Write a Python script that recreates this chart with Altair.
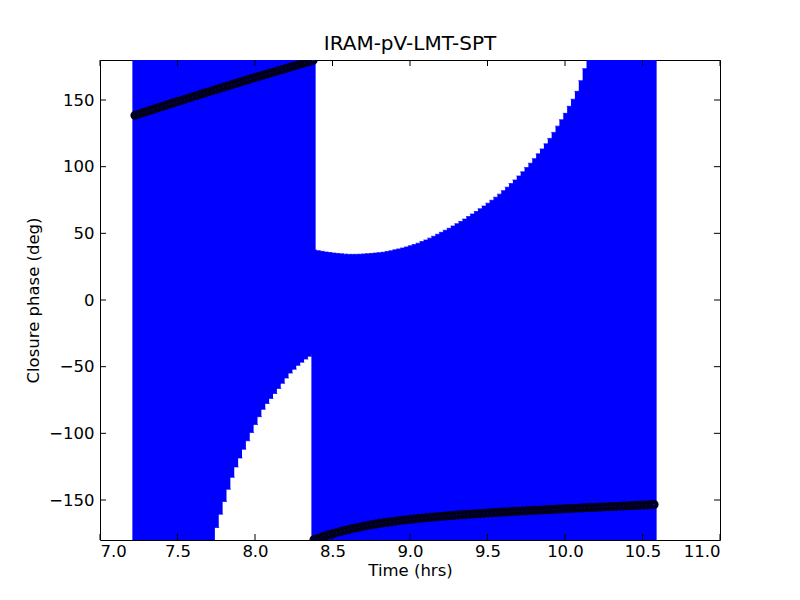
import altair as alt
import pandas as pd

# ---- data ----
time_a = [7.225, 7.25, 7.275, 7.3, 7.325, 7.35, 7.375, 7.4, 7.425, 7.45,
          7.475, 7.5, 7.525, 7.55, 7.575, 7.6, 7.625, 7.65, 7.675, 7.7,
          7.725, 7.75, 7.775, 7.8, 7.825, 7.85, 7.875, 7.9, 7.925, 7.95,
          7.975, 8.0, 8.025, 8.05, 8.075, 8.1, 8.125, 8.15, 8.175, 8.2,
          8.225, 8.25, 8.275, 8.3, 8.325, 8.35, 8.375]
phase_a = [138.5, 139.4, 140.4, 141.3, 142.3, 143.2, 144.2, 145.1, 146.0, 147.0,
           147.9, 148.8, 149.7, 150.6, 151.6, 152.5, 153.4, 154.3, 155.2, 156.1,
           157.0, 157.9, 158.8, 159.7, 160.6, 161.5, 162.4, 163.3, 164.2, 165.0,
           165.9, 166.8, 167.7, 168.5, 169.4, 170.3, 171.1, 172.0, 172.9, 173.7,
           174.6, 175.4, 176.3, 177.1, 178.0, 178.8, 179.7]
err_a = [711, 683, 656, 630, 605, 581, 558, 536, 515, 495,
         476, 458, 441, 425, 410, 396, 383, 371, 359.5, 348.5,
         338, 328.5, 319.4, 310.8, 302.5, 294.5, 287.6, 281.8, 276.1, 270.6,
         265.3, 260.2, 255.2, 250.5, 247.0, 244.1, 241.2, 238.3, 235.4, 232.2,
         229.4, 227.3, 225.3, 223.7, 222.3, 221.0, 219.8]

time_b = [8.38, 8.405, 8.43, 8.455, 8.48, 8.505, 8.53, 8.555, 8.58, 8.605,
          8.63, 8.655, 8.68, 8.705, 8.73, 8.755, 8.78, 8.805, 8.83, 8.855,
          8.88, 8.905, 8.93, 8.955, 8.98, 9.005, 9.03, 9.055, 9.08, 9.105,
          9.13, 9.155, 9.18, 9.205, 9.23, 9.255, 9.28, 9.305, 9.33, 9.355,
          9.38, 9.405, 9.43, 9.455, 9.48, 9.505, 9.53, 9.555, 9.58, 9.605,
          9.63, 9.655, 9.68, 9.705, 9.73, 9.755, 9.78, 9.805, 9.83, 9.855,
          9.88, 9.905, 9.93, 9.955, 9.98, 10.005, 10.03, 10.055, 10.08, 10.105,
          10.13, 10.155, 10.18, 10.205, 10.23, 10.255, 10.28, 10.305, 10.33, 10.355,
          10.38, 10.405, 10.43, 10.455, 10.48, 10.505, 10.53, 10.555, 10.575]
phase_b = [-179.8, -178.8, -177.8, -176.8, -175.9, -175.1, -174.3, -173.5, -172.8, -172.1,
           -171.4, -170.8, -170.2, -169.6, -169.0, -168.5, -168.0, -167.5, -167.1, -166.7,
           -166.3, -165.9, -165.5, -165.1, -164.8, -164.5, -164.2, -163.9, -163.6, -163.3,
           -163.0, -162.8, -162.5, -162.3, -162.0, -161.8, -161.6, -161.3, -161.1, -160.9,
           -160.7, -160.5, -160.3, -160.1, -159.9, -159.7, -159.5, -159.4, -159.2, -159.0,
           -158.9, -158.7, -158.5, -158.4, -158.2, -158.0, -157.9, -157.7, -157.6, -157.4,
           -157.3, -157.1, -157.0, -156.8, -156.7, -156.5, -156.4, -156.2, -156.1, -156.0,
           -155.8, -155.7, -155.6, -155.4, -155.3, -155.2, -155.0, -154.9, -154.8, -154.6,
           -154.5, -154.4, -154.2, -154.1, -154.0, -153.8, -153.7, -153.6, -153.4]
err_b = [217.3, 215.8, 214.3, 212.8, 211.5, 210.3, 209.2, 208.1, 207.2, 206.3,
         205.6, 205.0, 204.5, 204.1, 203.7, 203.4, 203.2, 203.0, 202.9, 203.0,
         203.2, 203.5, 203.8, 204.1, 204.6, 205.2, 205.8, 206.5, 207.4, 208.3,
         209.4, 210.6, 211.8, 213.1, 214.3, 215.6, 217.1, 218.5, 220.0, 221.6,
         223.3, 225.0, 226.7, 228.5, 230.4, 232.3, 234.3, 236.5, 238.6, 241.0,
         243.5, 246.0, 248.5, 251.4, 254.3, 257.3, 260.5, 263.7, 267.2, 270.7,
         274.4, 278.3, 282.7, 287.2, 291.9, 296.5, 301.7, 306.8, 312.6, 320.5,
         329.3, 338.7, 348.6, 359.4, 371.3, 384.2, 398.0, 412.9, 428.8, 445.6,
         463.5, 482.4, 502.2, 523.1, 545.0, 567.8, 591.7, 616.6, 642.4]

x_ticks = [7.0, 7.5, 8.0, 8.5, 9.0, 9.5, 10.0, 10.5, 11.0]
y_ticks = [-150, -100, -50, 0, 50, 100, 150]

df = pd.DataFrame({
    "time": time_a + time_b,
    "phase": phase_a + phase_b,
    "err": err_a + err_b,
})

W, H = 620, 480
FONT = "DejaVu Sans"
FS = 16.5
xs = alt.Scale(domain=[7, 11], nice=False, zero=False)
ys = alt.Scale(domain=[-180, 180], nice=False, zero=False)
axis_style = dict(domain=False, grid=False, ticks=False,
                  labelFont=FONT, labelFontSize=FS, labelColor="black",
                  titleFont=FONT, titleFontSize=FS, titleColor="black",
                  titleFontWeight="normal")
xaxis = alt.Axis(title="Time (hrs)", values=x_ticks, format=".1f",
                 labelPadding=3, titlePadding=3, **axis_style)
yaxis = alt.Axis(title="Closure phase (deg)", values=y_ticks, format="d",
                 labelPadding=6, titlePadding=7, **axis_style)

base = alt.Chart(df).transform_calculate(
    lo="datum.phase - datum.err", hi="datum.phase + datum.err"
)

bars = base.mark_rule(color="#0000ff", strokeWidth=5, clip=True).encode(
    x=alt.X("time:Q", scale=xs, axis=xaxis),
    y=alt.Y("lo:Q", scale=ys, axis=yaxis),
    y2="hi:Q",
)

caps_lo = base.mark_tick(color="#0000ff", orient="horizontal", size=6,
                         thickness=1, clip=True).encode(
    x=alt.X("time:Q", scale=xs, axis=xaxis),
    y=alt.Y("lo:Q", scale=ys, axis=yaxis),
)
caps_hi = base.mark_tick(color="#0000ff", orient="horizontal", size=6,
                         thickness=1, clip=True).encode(
    x=alt.X("time:Q", scale=xs, axis=xaxis),
    y=alt.Y("hi:Q", scale=ys, axis=yaxis),
)

points = alt.Chart(df).mark_circle(
    size=30, color="#0000ff", opacity=1, stroke="#000018", strokeWidth=3.5, clip=True
).encode(
    x=alt.X("time:Q", scale=xs, axis=xaxis),
    y=alt.Y("phase:Q", scale=ys, axis=yaxis),
)

xt = alt.Chart(pd.DataFrame({"tx": x_ticks}))
yt = alt.Chart(pd.DataFrame({"ty": y_ticks}))
bottom_ticks = xt.mark_rule(color="black", strokeWidth=1).encode(
    x=alt.X("tx:Q", scale=xs, axis=xaxis), y=alt.value(H), y2=alt.value(H - 6))
top_ticks = xt.mark_rule(color="black", strokeWidth=1).encode(
    x=alt.X("tx:Q", scale=xs, axis=xaxis), y=alt.value(0), y2=alt.value(6))
left_ticks = yt.mark_rule(color="black", strokeWidth=1).encode(
    y=alt.Y("ty:Q", scale=ys, axis=yaxis), x=alt.value(0), x2=alt.value(6))
right_ticks = yt.mark_rule(color="black", strokeWidth=1).encode(
    y=alt.Y("ty:Q", scale=ys, axis=yaxis), x=alt.value(W), x2=alt.value(W - 6))

chart = alt.layer(
    bars, caps_lo, caps_hi, points, bottom_ticks, top_ticks, left_ticks, right_ticks
).properties(
    width=W, height=H,
    background="white",
    title=alt.TitleParams("IRAM-pV-LMT-SPT", font=FONT, fontSize=20,
                          fontWeight="normal", color="black", offset=6),
    autosize=alt.AutoSizeParams(type="none"),
    padding={"left": 92, "top": 52, "right": 70, "bottom": 40},
).configure_view(
    stroke="black", strokeWidth=1
)

chart.save("out.html", embed_options={"renderer": "svg", "actions": False})
